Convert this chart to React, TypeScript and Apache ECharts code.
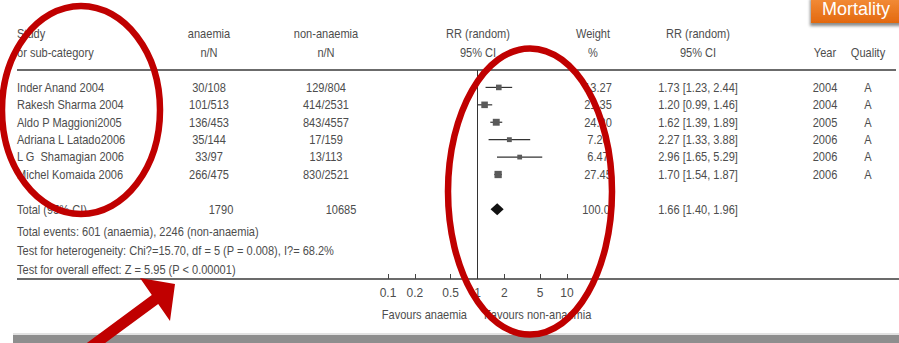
import React, { useEffect, useRef } from "react";
import * as echarts from "echarts";

// ---------- data ----------
const studies = [
  "Inder Anand 2004",
  "Rakesh Sharma 2004",
  "Aldo P Maggioni2005",
  "Adriana L Latado2006",
  "L G  Shamagian 2006",
  "Michel Komaida 2006",
];
const anaemiaNN = ["30/108", "101/513", "136/453", "35/144", "33/97", "266/475"];
const nonAnaemiaNN = ["129/804", "414/2531", "843/4557", "17/159", "13/113", "830/2521"];
const rr = [1.73, 1.2, 1.62, 2.27, 2.96, 1.7];
const ciLow = [1.23, 0.99, 1.39, 1.33, 1.65, 1.54];
const ciHigh = [2.44, 1.46, 1.89, 3.88, 5.29, 1.87];
const weights = [13.27, 21.35, 24.2, 7.26, 6.47, 27.45];
const years = ["2004", "2004", "2005", "2006", "2006", "2006"];
const quality = ["A", "A", "A", "A", "A", "A"];

const totalLabel = "Total (95% CI)";
const totalAnaemia = "1790";
const totalNonAnaemia = "10685";
const totalWeight = "100.0";
const totalRR = 1.66;
const totalLow = 1.4;
const totalHigh = 1.96;
const summaryLines = [
  "Total events: 601 (anaemia), 2246 (non-anaemia)",
  "Test for heterogeneity: Chi?=15.70, df = 5 (P = 0.008), I?= 68.2%",
  "Test for overall effect: Z = 5.95 (P < 0.00001)",
];
const headerTop = ["Study", "anaemia", "non-anaemia", "RR (random)", "Weight", "RR (random)", "", ""];
const headerBottom = ["or sub-category", "n/N", "n/N", "95% CI", "%", "95% CI", "Year", "Quality"];
const tickValues = [0.1, 0.2, 0.5, 1, 2, 5, 10];
const favoursLeft = "Favours anaemia";
const favoursRight = "Favours non-anaemia";
const badgeText = "Mortality";

// ---------- layout ----------
const W = 899;
const H = 343;
const GRID_TOP = 70;
const AXIS_Y = 279;
const Y_MIN = -1;
const Y_MAX = 11;
const ROW_H = (AXIS_Y - GRID_TOP) / (Y_MAX - Y_MIN);
const rowY = (i: number) => GRID_TOP + (i - Y_MIN) * ROW_H;
const TOTAL_ROW = 7;

const FONT = '"Liberation Sans", Arial, sans-serif';
const TXT = "#4d4d4d";
const NARROW = 0.85;
const fmtRR = (v: number, l: number, h: number) =>
  `${v.toFixed(2)} [${l.toFixed(2)}, ${h.toFixed(2)}]`;

function txt(text: string, x: number, y: number, align: string = "left", size = 13) {
  return {
    type: "text",
    x,
    y,
    scaleX: NARROW,
    silent: true,
    style: {
      text,
      align,
      verticalAlign: "middle",
      textAlign: align,
      textVerticalAlign: "middle",
      fill: TXT,
      font: `${size}px ${FONT}`,
    },
  };
}

export default function App() {
  const ref = useRef<HTMLDivElement>(null);

  useEffect(() => {
    const chart = echarts.init(ref.current!, null, { renderer: "svg" });

    const headerX = [17, 209, 326, 478, 593, 698, 825, 868];
    const headerAlign = ["left", "center", "center", "center", "center", "center", "center", "center"];

    const elements: any[] = [];
    headerTop.forEach((t, i) => {
      if (t) elements.push(txt(t, headerX[i], 34, headerAlign[i]));
    });
    headerBottom.forEach((t, i) => {
      if (t) elements.push(txt(t, headerX[i], 53, headerAlign[i]));
    });
    studies.forEach((s, i) => {
      const y = rowY(i);
      elements.push(txt(s, 17, y));
      elements.push(txt(anaemiaNN[i], 209, y, "center"));
      elements.push(txt(nonAnaemiaNN[i], 326, y, "center"));
      elements.push(txt(weights[i].toFixed(2), 598, y, "center"));
      elements.push(txt(fmtRR(rr[i], ciLow[i], ciHigh[i]), 698, y, "center"));
      elements.push(txt(years[i], 825, y, "center"));
      elements.push(txt(quality[i], 868, y, "center"));
    });
    const ty = rowY(TOTAL_ROW);
    elements.push(txt(totalLabel, 17, ty));
    elements.push(txt(totalAnaemia, 221, ty, "center"));
    elements.push(txt(totalNonAnaemia, 341, ty, "center"));
    elements.push(txt(totalWeight, 596, ty, "center"));
    elements.push(txt(fmtRR(totalRR, totalLow, totalHigh), 698, ty, "center"));
    const sumY = [232, 251, 270];
    summaryLines.forEach((s, i) => elements.push(txt(s, 17, sumY[i])));
    elements.push(txt(favoursLeft, 467, 315, "right"));
    elements.push(txt(favoursRight, 484, 315, "left"));

    // table rules
    elements.push({
      type: "line",
      silent: true,
      shape: { x1: 17, y1: GRID_TOP, x2: 896, y2: GRID_TOP },
      style: { stroke: "#3a3a3a", lineWidth: 1.5 },
    });
    elements.push({
      type: "line",
      silent: true,
      shape: { x1: 17, y1: AXIS_Y, x2: 899, y2: AXIS_Y },
      style: { stroke: "#3a3a3a", lineWidth: 1.5 },
    });
    // bottom grey bar
    elements.push({
      type: "rect",
      silent: true,
      shape: { x: 13, y: 333, width: 886, height: 2 },
      style: { fill: "#e2e2e2" },
    });
    elements.push({
      type: "rect",
      silent: true,
      shape: { x: 13, y: 335, width: 886, height: 8 },
      style: { fill: "#8e8e8e" },
    });

    // annotations
    elements.push({
      type: "ellipse",
      silent: true,
      z: 100,
      shape: { cx: 81, cy: 110, rx: 79, ry: 104 },
      style: { fill: "none", stroke: "#c00000", lineWidth: 6.5 },
    });
    elements.push({
      type: "ellipse",
      silent: true,
      z: 100,
      shape: { cx: 530, cy: 191.5, rx: 82, ry: 143 },
      style: { fill: "none", stroke: "#c00000", lineWidth: 6.5 },
    });
    elements.push({
      type: "polygon",
      silent: true,
      z: 100,
      shape: {
        points: [
          [71.8, 354.1],
          [151.8, 295.1],
          [140, 278],
          [175, 284],
          [170, 321],
          [158.2, 303.9],
          [78.2, 362.9],
        ],
      },
      style: { fill: "#c00000" },
    });
    elements.push({
      type: "rect",
      silent: true,
      z: 100,
      shape: { x: 811, y: -4, width: 92, height: 27 },
      style: {
        fill: new echarts.graphic.LinearGradient(0, 0, 0, 1, [
          { offset: 0, color: "#f48f3c" },
          { offset: 1, color: "#e3690f" },
        ]),
        shadowBlur: 3,
        shadowOffsetX: -1,
        shadowOffsetY: 3,
        shadowColor: "rgba(0,0,0,0.45)",
      },
    });
    elements.push({
      type: "text",
      silent: true,
      z: 101,
      x: 822,
      y: 9,
      style: {
        text: badgeText,
        align: "left",
        verticalAlign: "middle",
        textAlign: "left",
        textVerticalAlign: "middle",
        fill: "#ffffff",
        font: '18px "Liberation Sans", Arial, sans-serif',
      },
    });

    const studyData = studies.map((_, i) => [
      Math.log10(rr[i]),
      i,
      Math.log10(ciLow[i]),
      Math.log10(ciHigh[i]),
      weights[i],
    ]);
    const totalData = [[Math.log10(totalRR), TOTAL_ROW, Math.log10(totalLow), Math.log10(totalHigh)]];
    const logTicks = tickValues.map((t) => Math.log10(t));

    const option: any = {
      animation: false,
      backgroundColor: "#ffffff",
      grid: { left: 388, right: W - 567, top: GRID_TOP, bottom: H - AXIS_Y },
      xAxis: {
        type: "value",
        min: -1,
        max: 1,
        axisLine: { show: false, onZero: false },
        splitLine: { show: false },
        axisTick: {
          show: true,
          inside: true,
          length: 5,
          customValues: logTicks,
          lineStyle: { color: "#444", width: 1 },
        },
        axisLabel: {
          customValues: logTicks,
          margin: 8,
          color: TXT,
          fontSize: 12,
          fontFamily: FONT,
          formatter: (v: number) => String(parseFloat(Math.pow(10, v).toPrecision(6))),
        },
      },
      yAxis: { type: "value", inverse: true, min: Y_MIN, max: Y_MAX, show: false },
      graphic: { elements },
      series: [
        {
          type: "line",
          data: [
            [0, Y_MIN],
            [0, Y_MAX],
          ],
          symbol: "none",
          silent: true,
          lineStyle: { color: "#333", width: 1 },
          z: 1,
        },
        {
          type: "custom",
          silent: true,
          encode: { x: [0, 2, 3], y: 1 },
          data: studyData,
          renderItem: (params: any, api: any) => {
            const y = api.value(1);
            const p = api.coord([api.value(0), y]);
            const pl = api.coord([api.value(2), y]);
            const ph = api.coord([api.value(3), y]);
            const s = 4 + api.value(4) * 0.12;
            return {
              type: "group",
              children: [
                {
                  type: "line",
                  shape: { x1: pl[0], y1: pl[1], x2: ph[0], y2: ph[1] },
                  style: { stroke: "#333", lineWidth: 1.2 },
                },
                {
                  type: "rect",
                  shape: { x: p[0] - s / 2, y: p[1] - s / 2, width: s, height: s },
                  style: { fill: "#5a5a5a" },
                },
              ],
            };
          },
        },
        {
          type: "custom",
          silent: true,
          encode: { x: [0, 2, 3], y: 1 },
          data: totalData,
          renderItem: (params: any, api: any) => {
            const y = api.value(1);
            const c = api.coord([api.value(0), y]);
            const l = api.coord([api.value(2), y]);
            const r = api.coord([api.value(3), y]);
            const h = 6;
            return {
              type: "polygon",
              shape: {
                points: [
                  [l[0], l[1]],
                  [c[0], c[1] - h],
                  [r[0], r[1]],
                  [c[0], c[1] + h],
                ],
              },
              style: { fill: "#111" },
            };
          },
        },
      ],
    };

    chart.setOption(option);
    return () => chart.dispose();
  }, []);

  return (
    <div
      ref={ref}
      style={{ position: "absolute", left: 0, top: 0, width: W, height: H }}
    />
  );
}
